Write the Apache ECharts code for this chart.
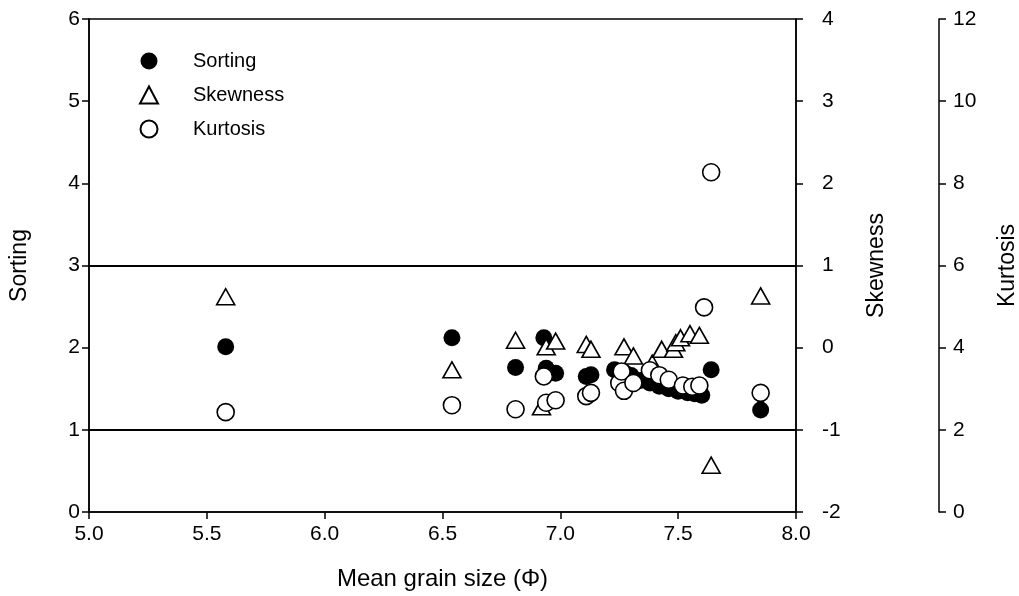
<!DOCTYPE html>
<html>
<head>
<meta charset="utf-8">
<script src="https://cdn.jsdelivr.net/npm/echarts@6/dist/echarts.min.js"></script>
<style>
  html, body { margin: 0; padding: 0; background: #fff; }
  #chart { width: 1019px; height: 596px; }
</style>
</head>
<body>
<div id="chart"></div>
<script>
// mean grain size (phi) vs value
const sortingData = [
  [5.58, 2.01], [6.54, 2.12], [6.81, 1.76], [6.93, 2.12], [6.94, 1.75],
  [6.98, 1.69], [7.11, 1.65], [7.13, 1.67], [7.23, 1.73], [7.27, 1.70],
  [7.30, 1.66], [7.34, 1.60], [7.38, 1.57], [7.42, 1.53], [7.46, 1.50],
  [7.50, 1.47], [7.54, 1.45], [7.57, 1.44], [7.60, 1.42], [7.64, 1.73],
  [7.85, 1.24]
];
const skewnessData = [
  [5.58, 0.62], [6.54, -0.27], [6.81, 0.09], [6.92, -0.72], [6.94, 0.01],
  [6.98, 0.08], [7.11, 0.04], [7.13, -0.02], [7.27, 0.01], [7.31, -0.10],
  [7.39, -0.19], [7.43, -0.02], [7.48, -0.02], [7.49, 0.06], [7.51, 0.12],
  [7.55, 0.17], [7.59, 0.15], [7.64, -1.43], [7.85, 0.63]
];
const kurtosisData = [
  [5.58, 2.43], [6.54, 2.60], [6.81, 2.50], [6.93, 3.30], [6.94, 2.66],
  [6.98, 2.72], [7.11, 2.82], [7.13, 2.90], [7.25, 3.14], [7.26, 3.42],
  [7.27, 2.95], [7.31, 3.14], [7.38, 3.45], [7.42, 3.33], [7.46, 3.22],
  [7.52, 3.08], [7.56, 3.05], [7.59, 3.08], [7.61, 4.98], [7.64, 8.27],
  [7.85, 2.90]
];
// reference lines on the sorting axis
const sortingLines = [3, 1];

const font = 'Liberation Sans, Arial, sans-serif';
const black = '#000';

function yAxisBase(extra) {
  return Object.assign({
    type: 'value',
    nameLocation: 'middle',
    nameRotate: 90,
    nameTextStyle: { fontFamily: font, fontSize: 23, color: black },
    axisLine: { show: true, lineStyle: { color: black, width: 1.5 } },
    axisTick: { show: true, inside: false, length: 7, lineStyle: { color: black, width: 1.5 } },
    axisLabel: { fontFamily: font, fontSize: 21, color: black, margin: 9 },
    splitLine: { show: false }
  }, extra);
}

let myChart = echarts.init(document.getElementById('chart'));
let option = {
  animation: false,
  grid: {
    left: 89, right: 223, top: 19, bottom: 84,
    outerBoundsMode: 'none',
    containLabel: false,
    show: true, borderColor: black, borderWidth: 1.5, backgroundColor: 'transparent'
  },
  legend: {
    orient: 'vertical',
    left: 139, top: 51,
    padding: 0,
    itemWidth: 18, itemHeight: 17,
    itemGap: 14,
    textStyle: { fontFamily: font, fontSize: 20, color: black, padding: [0, 0, 0, 30] },
    data: ['Sorting', 'Skewness', 'Kurtosis']
  },
  xAxis: {
    type: 'value',
    min: 5, max: 8, interval: 0.5,
    name: 'Mean grain size (\u03A6)',
    nameLocation: 'middle',
    nameGap: 55,
    nameTextStyle: { fontFamily: font, fontSize: 24, color: black },
    axisLine: { show: true, lineStyle: { color: black, width: 1.5 } },
    axisTick: { show: true, length: 7, lineStyle: { color: black, width: 1.5 } },
    axisLabel: { fontFamily: font, fontSize: 21, color: black, margin: 12,
      formatter: v => v.toFixed(1) },
    splitLine: { show: false }
  },
  yAxis: [
    yAxisBase({ name: 'Sorting', position: 'left', min: 0, max: 6, interval: 1, nameGap: 58 }),
    yAxisBase({ name: 'Skewness', position: 'right', min: -2, max: 4, interval: 1, nameGap: 69,
      axisLabel: { fontFamily: font, fontSize: 21, color: black, margin: 26 } }),
    yAxisBase({ name: 'Kurtosis', position: 'right', offset: 143, min: 0, max: 12, interval: 2, nameGap: 57,
      axisLabel: { fontFamily: font, fontSize: 21, color: black, margin: 14 } })
  ],
  series: [
    {
      name: 'Sorting',
      type: 'scatter',
      yAxisIndex: 0,
      symbol: 'circle',
      symbolSize: 17,
      itemStyle: { color: black, opacity: 1 },
      data: sortingData,
      markLine: {
        silent: true,
        symbol: ['none', 'none'],
        label: { show: false },
        lineStyle: { color: black, type: 'solid', width: 2 },
        data: sortingLines.map(v => ({ yAxis: v }))
      }
    },
    {
      name: 'Skewness',
      type: 'scatter',
      yAxisIndex: 1,
      symbol: 'triangle',
      symbolSize: [18, 16],
      itemStyle: { color: '#fff', borderColor: black, borderWidth: 1.6, opacity: 1 },
      data: skewnessData
    },
    {
      name: 'Kurtosis',
      type: 'scatter',
      yAxisIndex: 2,
      symbol: 'circle',
      symbolSize: 17,
      itemStyle: { color: '#fff', borderColor: black, borderWidth: 1.6, opacity: 1 },
      data: kurtosisData
    }
  ]
};
myChart.setOption(option);
</script>
</body>
</html>
